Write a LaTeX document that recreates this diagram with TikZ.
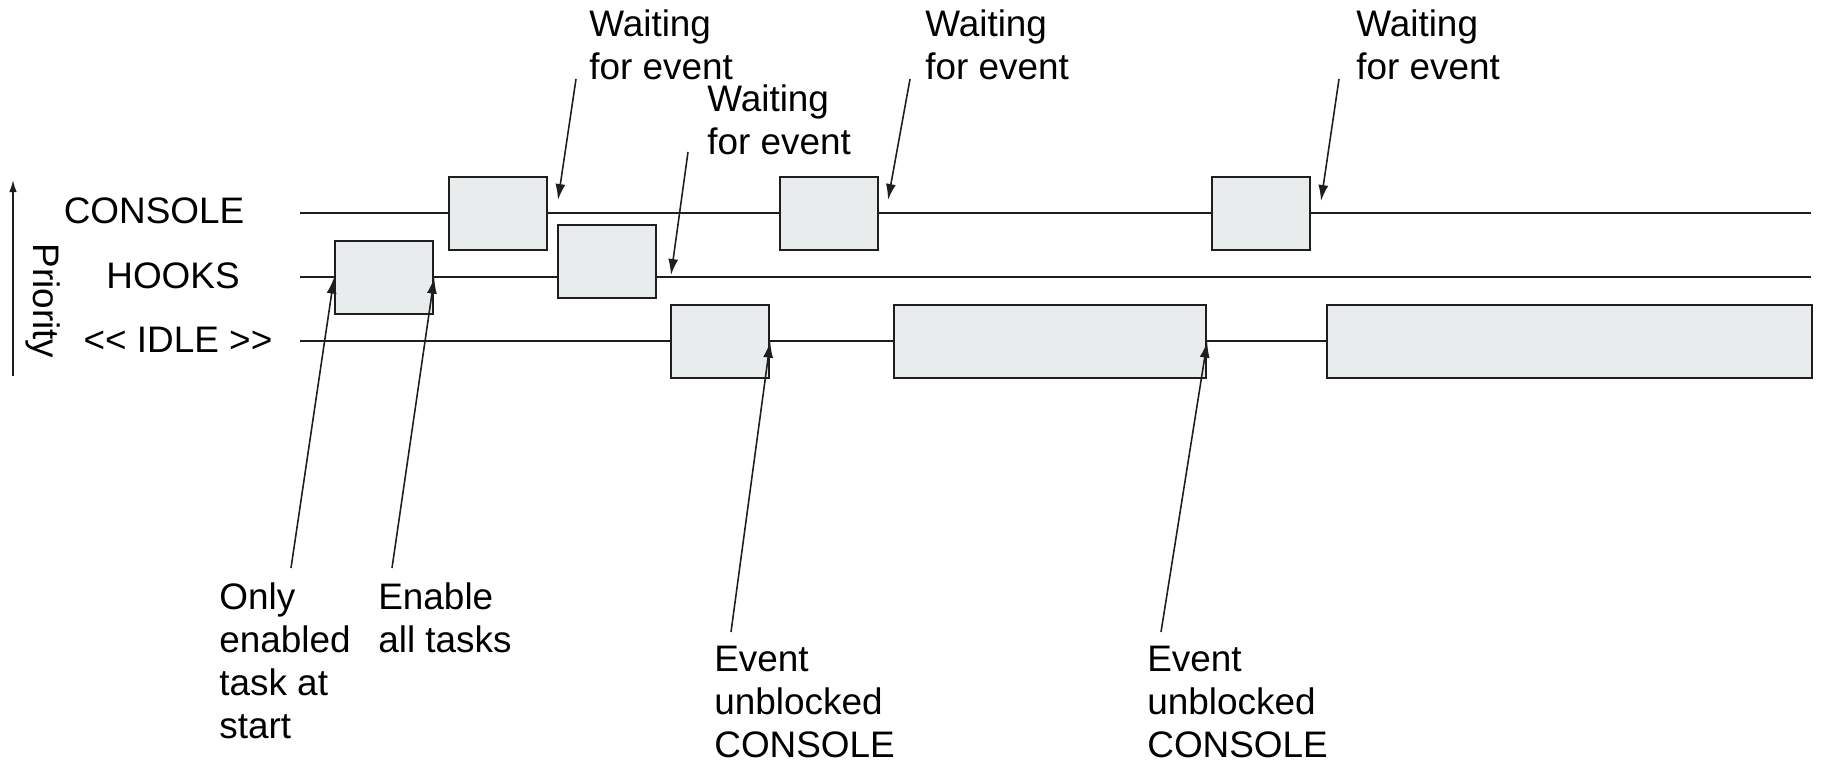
\documentclass[tikz,border=0pt]{standalone}
\usepackage{fontspec}
\setmainfont{Liberation Sans}
\usepackage{tikz}
\usetikzlibrary{arrows.meta}
\definecolor{boxgray}{RGB}{232,236,236}
\definecolor{ink}{RGB}{30,30,30}
\tikzset{arrow/.style={->, >={Latex[length=3.2mm,width=2mm]}, line width=0.9pt, draw=ink}}
\tikzset{lane/.style={line width=1.1pt, draw=ink}}
\tikzset{taskbox/.style={draw=ink, fill=boxgray, line width=1.3pt, inner sep=0pt, anchor=north west, minimum height=1.46cm, minimum width=1.96cm}}
\tikzset{lbl/.style={inner sep=0pt, font=\fontsize{21}{24.5}\selectfont}}
\tikzset{note/.style={lbl, anchor=north west, align=left}}

\begin{document}
\begin{tikzpicture}[x=0.02cm, y=-0.02cm]
      \useasboundingbox (0,0) rectangle (1824,764);

      \coordinate (prio-bot) at (13, 376);
      \coordinate (prio-top) at (13, 180);
      \draw[arrow, >={Latex[length=2.4mm,width=1.5mm]}] (prio-bot) -- (prio-top);
      \node[lbl, rotate=-90] (prio) at (43, 301) {Priority};

      \node[lbl] (console) at (154, 211) {CONSOLE};
      \node[lbl] (hooks) at (173, 276) {HOOKS};
      \node[lbl] (idle) at (178, 340) {<{}< IDLE >{}>};

      \coordinate (c-start) at (300, 213);
      \coordinate (c-end) at (1811, 213);
      \coordinate (h-start) at (300, 277);
      \coordinate (h-end) at (1811, 277);
      \coordinate (i-start) at (300, 341);
      \coordinate (i-end) at (1811, 341);
      \draw[lane] (c-start) -- (c-end);
      \draw[lane] (h-start) -- (h-end);
      \draw[lane] (i-start) -- (i-end);

      \node[taskbox] (c1) at (448, 176) {};
      \node[taskbox] (c2) at (779, 176) {};
      \node[taskbox] (c3) at (1211, 176) {};
      \node[taskbox] (h1) at (334, 240) {};
      \node[taskbox] (h2) at (557, 224) {};
      \node[taskbox] (i1) at (670, 304) {};
      \node[taskbox, minimum width=6.24cm] (i2) at (893, 304) {};
      \node[taskbox, minimum width=9.7cm] (i3) at (1326, 304) {};

      \node[note] (wait1) at (589, 9) {Waiting\\for event};
      \node[note] (wait2) at (707, 84) {Waiting\\for event};
      \node[note] (wait3) at (925, 9) {Waiting\\for event};
      \node[note] (wait4) at (1356, 9) {Waiting\\for event};
      \node[note] (only) at (219, 582) {Only\\enabled\\task at\\start};
      \node[note] (enable) at (378, 582) {Enable\\all tasks};
      \node[note] (unblock1) at (714, 646) {Event\\unblocked\\CONSOLE};
      \node[note] (unblock2) at (1147, 646) {Event\\unblocked\\CONSOLE};

      \coordinate (w1-tail) at (576, 79);
      \coordinate (w1-tip) at (558, 200);
      \coordinate (w2-tail) at (688, 152);
      \coordinate (w2-tip) at (671, 275);
      \coordinate (w3-tail) at (910, 79);
      \coordinate (w3-tip) at (888, 200);
      \coordinate (w4-tail) at (1339, 79);
      \coordinate (w4-tip) at (1321, 201);
      \coordinate (only-tail) at (291, 568);
      \coordinate (enable-tail) at (392, 568);
      \coordinate (u1-tail) at (731, 632);
      \coordinate (u2-tail) at (1161, 632);

      \draw[arrow] (w1-tail) -- (w1-tip);
      \draw[arrow] (w2-tail) -- (w2-tip);
      \draw[arrow] (w3-tail) -- (w3-tip);
      \draw[arrow] (w4-tail) -- (w4-tip);
      \draw[arrow] (only-tail) -- (h1.west);
      \draw[arrow] (enable-tail) -- (h1.east);
      \draw[arrow] (u1-tail) -- (i1.east);
      \draw[arrow] (u2-tail) -- (i2.east);
    \end{tikzpicture}
\end{document}
